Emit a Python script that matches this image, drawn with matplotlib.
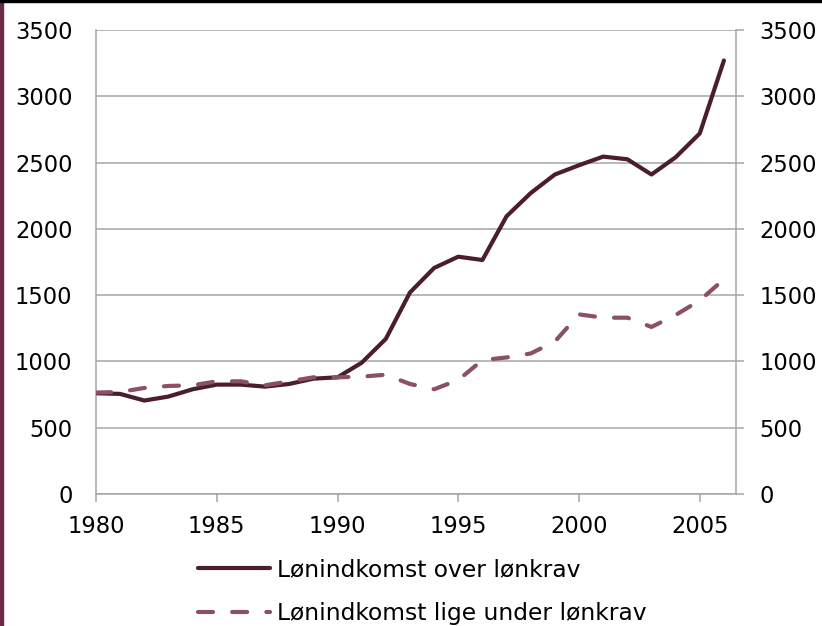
#!/usr/bin/env python3
"""
Lønindkomst over / lige under lønkrav, 1980-2006
"""

import matplotlib
matplotlib.use("Agg")
import matplotlib.pyplot as plt
from matplotlib.patches import Rectangle

years = list(range(1980, 2007))

over_loenkrav = [760, 755, 705, 735, 790, 825, 825, 810, 830, 870,
                 880, 990, 1170, 1520, 1705, 1790, 1765, 2095, 2270, 2410,
                 2480, 2545, 2525, 2410, 2540, 2720, 3270]

under_loenkrav = [765, 770, 800, 815, 820, 850, 850, 820, 850, 880,
                  880, 885, 900, 830, 790, 860, 1010, 1030, 1060, 1150,
                  1355, 1330, 1330, 1260, 1350, 1460, 1620]

labels = ['Lønindkomst over lønkrav', 'Lønindkomst lige under lønkrav']
y_ticks = [0, 500, 1000, 1500, 2000, 2500, 3000, 3500]
x_ticks = [1980, 1985, 1990, 1995, 2000, 2005]

SOLID = '#4b1d30'
DASHED = '#8a5066'
GRID = '#a6a6a6'

plt.rcParams['font.family'] = ['DejaVu Sans']
plt.rcParams['font.size'] = 16.3

W, H = 822, 626
fig = plt.figure(figsize=(W / 100, H / 100), dpi=100)
ax = fig.add_axes([96 / W, 1 - 494 / H, (736 - 96) / W, (494 - 30) / H])

line1, = ax.plot(years, over_loenkrav, color=SOLID, linewidth=3,
                 solid_capstyle='round', solid_joinstyle='round', zorder=3)
line2, = ax.plot(years, under_loenkrav, color=DASHED, linewidth=3,
                 dashes=(3.6, 4.6), dash_capstyle='round', zorder=3)

ax.set_xlim(1980, 2006.5)
ax.set_ylim(0, 3500)
ax.set_xticks(x_ticks)
ax.set_yticks(y_ticks)
ax.yaxis.grid(True, color=GRID, linewidth=1.1)
ax.set_axisbelow(True)

for side in ['top', 'right']:
    ax.spines[side].set_visible(False)
for side in ['left', 'bottom']:
    ax.spines[side].set_color(GRID)
    ax.spines[side].set_linewidth(1.1)

ax.tick_params(axis='y', length=0, pad=17)
ax.tick_params(axis='x', length=6, width=1.1, color=GRID, pad=9)

ax2 = ax.twinx()
ax2.set_ylim(0, 3500)
ax2.set_yticks(y_ticks)
for side in ['top', 'left', 'bottom']:
    ax2.spines[side].set_visible(False)
ax2.spines['right'].set_color(GRID)
ax2.spines['right'].set_linewidth(1.1)
ax2.tick_params(axis='y', length=6, width=1.1, color=GRID, pad=11)

fig.legend([line1, line2], labels, loc='upper left',
           bbox_to_anchor=(198 / W, 1 - 558 / H), frameon=False,
           borderpad=0, borderaxespad=0, handlelength=3.1, handletextpad=0.3,
           labelspacing=0.9, fontsize=16.8)

# frame bits of the original screenshot
fig.patches.append(Rectangle((0, 0), 3 / W, 1, transform=fig.transFigure,
                             color='#6b2a47', zorder=10))
fig.patches.append(Rectangle((0, 1 - 2 / H), 1, 2 / H, transform=fig.transFigure,
                             color='black', zorder=10))

plt.savefig('out.png', dpi=100)
